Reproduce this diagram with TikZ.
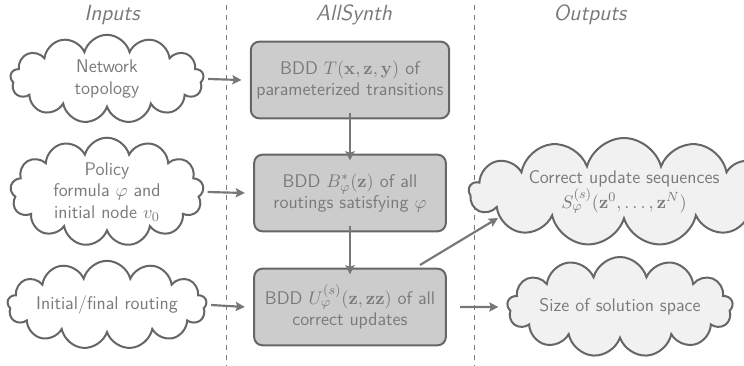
\documentclass[tikz,border=0pt]{standalone}
\usetikzlibrary{shapes.symbols,arrows.meta}
\definecolor{txtgray}{HTML}{7A7A7A}
\definecolor{linegray}{HTML}{666666}
\definecolor{arrgray}{HTML}{777777}
\definecolor{boxfill}{HTML}{CCCCCC}
\definecolor{outfill}{HTML}{F1F1F1}
\begin{document}
\begin{tikzpicture}[x=0.6pt,y=-0.6pt,
  every node/.style={font=\fontsize{11}{13}\selectfont\sffamily, text=txtgray, align=center},
  hdr/.style={font=\fontsize{13.2}{15}\selectfont\sffamily\itshape},
  incloud/.style={cloud, cloud puffs=13, cloud ignores aspect, draw=linegray, line width=1.2pt, fill=white, minimum width=116pt, minimum height=53pt, inner sep=0pt},
  outcloud/.style={incloud, fill=outfill},
  bddbox/.style={rectangle, rounded corners=5pt, draw=linegray, line width=1.2pt, fill=boxfill, minimum width=115pt, minimum height=46pt},
  flow/.style={draw=arrgray, line width=1.3pt, -{Stealth[length=5.5pt,width=5.5pt,inset=1pt]}},
  sep/.style={draw=txtgray, line width=0.6pt, dash pattern=on 3pt off 3pt}]
\useasboundingbox (0,0) rectangle (744,366);
% headers
\node[hdr] (hin) at (112,15) {Inputs};
\node[hdr] (hall) at (354,15) {AllSynth};
\node[hdr] (hout) at (590,15) {Outputs};
% separators
\coordinate (s1t) at (226,5); \coordinate (s1b) at (226,366);
\coordinate (s2t) at (474,5); \coordinate (s2b) at (474,366);
\draw[sep] (s1t) -- (s1b);
\draw[sep] (s2t) -- (s2b);
% input clouds
\node[incloud] (c1) at (107,79) {Network\\topology};
\node[incloud] (c2) at (107,192) {Policy\\formula $\varphi$ and\\initial node $v_0$};
\node[incloud] (c3) at (107,305) {Initial/final routing};
% boxes
\node[bddbox] (b1) at (350,80) {BDD $T(\mathbf{x},\mathbf{z},\mathbf{y})$ of\\parameterized transitions};
\node[bddbox] (b2) at (350,193) {BDD $B^*_\varphi(\mathbf{z})$ of all\\routings satisfying $\varphi$};
\node[bddbox] (b3) at (350,307) {BDD $U^{(s)}_\varphi(\mathbf{z},\mathbf{zz})$ of all\\correct updates};
% output clouds
\node[outcloud, minimum width=186pt, minimum height=55pt] (o1) at (624,192) {Correct update sequences\\$S^{(s)}_\varphi(\mathbf{z}^0,\ldots,\mathbf{z}^N)$};
\node[outcloud, minimum width=130pt, minimum height=60pt] (o2) at (620,307) {Size of solution space};
% arrows
\draw[flow] (c1.east) ++(4,0) -- ([xshift=-5]b1.west);
\draw[flow] (c2.east) ++(4,0) -- ([xshift=-5]b2.west);
\draw[flow] (c3.east) ++(4,0) -- ([xshift=-5]b3.west);
\draw[flow] ([yshift=4]b1.south) -- ([yshift=-4]b2.north);
\draw[flow] ([yshift=4]b2.south) -- ([yshift=-4]b3.north);
\draw[flow] ([xshift=8]b3.east) -- ([xshift=-5]o2.west);
\coordinate (d1) at (420,265);
\draw[flow] (d1) -- (498,218);
\end{tikzpicture}
\end{document}
